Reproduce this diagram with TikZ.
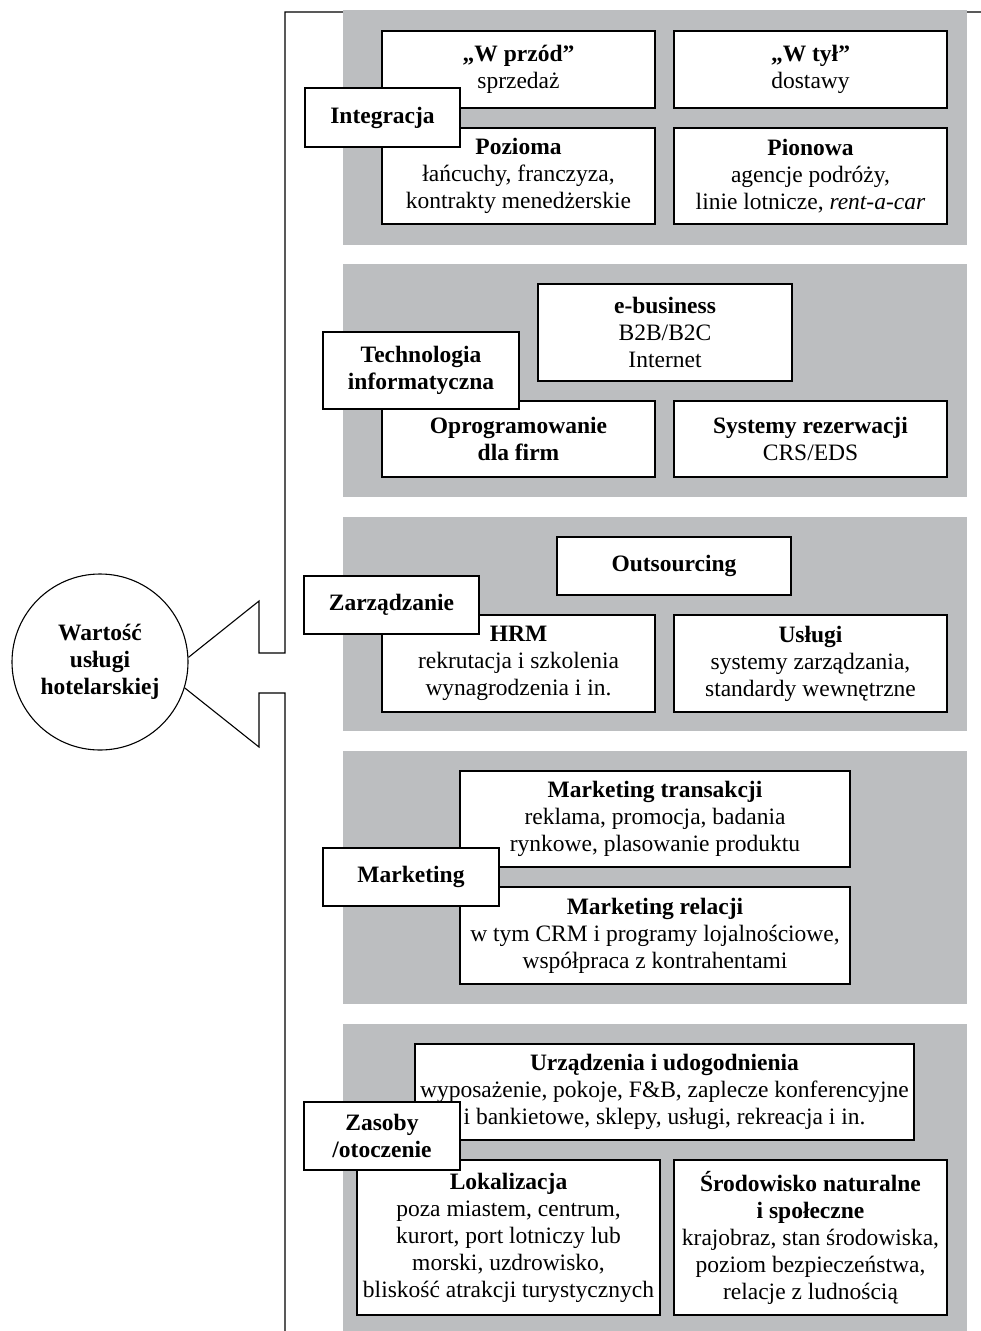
\documentclass[tikz,border=0pt]{standalone}
\usepackage{fontspec}
\setmainfont{Liberation Serif}
\usetikzlibrary{shadows}
\definecolor{panelgray}{HTML}{BCBEC0}
\tikzset{
  panel/.style={fill=panelgray, draw=none},
  cbox/.style={draw=black, fill=white, line width=1.1pt, align=center, inner sep=0pt,
    font=\fontsize{23.5}{27}\selectfont,
    drop shadow={shadow xshift=1pt, shadow yshift=-1pt, fill=black!70, opacity=1}},
  lbox/.style={cbox, font=\fontsize{23.5}{27}\selectfont\bfseries},
  bline/.style={line width=1.1pt, line join=miter},
}
\newcommand{\placebox}[7]{%
  \node[#1, minimum width={#5-#3}, minimum height={#6-#4}] (#2) at ({(#3+#5)/2},{(#4+#6)/2}) {#7};}
\begin{document}
\begin{tikzpicture}[x=1pt,y=-1pt]
\useasboundingbox (0,0) rectangle (981,1331);
% central circle
\node[circle, draw, line width=1.1pt, minimum size=176pt, inner sep=0pt, align=center,
  font=\fontsize{23.5}{27}\selectfont\bfseries] (circ) at (100,662) {Wartość\\usługi\\hotelarskiej};
% bracket and arrow
\coordinate (tr) at (981,12);
\coordinate (tl) at (285,12);
\coordinate (ua) at (285,653);
\coordinate (ub) at (259,653);
\coordinate (uc) at (259,601);
\coordinate (la) at (285,693);
\coordinate (lb) at (259,693);
\coordinate (lc) at (259,747);
\coordinate (bot) at (285,1331);
\draw[bline] (tr) -- (tl) -- (ua) -- (ub) -- (uc) -- (circ.3);
\draw[bline] (circ.-17) -- (lc) -- (lb) -- (la) -- (bot);
% panels
\fill[panel] (343,10) rectangle (967,245);
\fill[panel] (343,264) rectangle (967,497);
\fill[panel] (343,517) rectangle (967,731);
\fill[panel] (343,751) rectangle (967,1004);
\fill[panel] (343,1024) rectangle (967,1331);
% panel 1
\placebox{cbox}{wprzod}{382}{31}{655}{108}{\textbf{„W przód”}\\sprzedaż}
\placebox{cbox}{wtyl}{674}{31}{947}{108}{\textbf{„W tył”}\\dostawy}
\placebox{cbox}{pozioma}{382}{128}{655}{224}{\textbf{Pozioma}\\łańcuchy, franczyza,\\kontrakty menedżerskie}
\placebox{cbox}{pionowa}{674}{128}{947}{224}{\textbf{Pionowa}\\agencje podróży,\\linie lotnicze, \textit{rent-a-car}}
\placebox{lbox}{integracja}{305}{88}{460}{147}{Integracja}
% panel 2
\placebox{cbox}{ebiz}{538}{284}{792}{381}{\textbf{e-business}\\B2B/B2C\\Internet}
\placebox{cbox}{oprog}{382}{401}{655}{477}{\textbf{Oprogramowanie}\\\textbf{dla firm}}
\placebox{cbox}{sysrez}{674}{401}{947}{477}{\textbf{Systemy rezerwacji}\\CRS/EDS}
\placebox{lbox}{tech}{323}{332}{519}{409}{Technologia\\informatyczna}
% panel 3
\placebox{lbox}{outs}{557}{537}{791}{595}{Outsourcing}
\placebox{cbox}{hrm}{382}{615}{655}{712}{\textbf{HRM}\\rekrutacja i szkolenia\\wynagrodzenia i in.}
\placebox{cbox}{uslugi}{674}{615}{947}{712}{\textbf{Usługi}\\systemy zarządzania,\\standardy wewnętrzne}
\placebox{lbox}{zarz}{304}{576}{479}{634}{Zarządzanie}
% panel 4
\placebox{cbox}{mtrans}{460}{771}{850}{867}{\textbf{Marketing transakcji}\\reklama, promocja, badania\\rynkowe, plasowanie produktu}
\placebox{cbox}{mrel}{460}{887}{850}{984}{\textbf{Marketing relacji}\\w tym CRM i programy lojalnościowe,\\współpraca z kontrahentami}
\placebox{lbox}{mark}{323}{848}{499}{906}{Marketing}
% panel 5
\placebox{cbox}{urz}{415}{1044}{914}{1140}{\textbf{Urządzenia i udogodnienia}\\wyposażenie, pokoje, F\&B, zaplecze konferencyjne\\i bankietowe, sklepy, usługi, rekreacja i in.}
\placebox{cbox}{lok}{357}{1160}{660}{1315}{\textbf{Lokalizacja}\\poza miastem, centrum,\\kurort, port lotniczy lub\\morski, uzdrowisko,\\bliskość atrakcji turystycznych}
\placebox{cbox}{srod}{674}{1160}{947}{1315}{\textbf{Środowisko naturalne}\\\textbf{i społeczne}\\krajobraz, stan środowiska,\\poziom bezpieczeństwa,\\relacje z ludnością}
\placebox{lbox}{zasoby}{304}{1102}{460}{1170}{Zasoby\\/otoczenie}
\end{tikzpicture}
\end{document}
